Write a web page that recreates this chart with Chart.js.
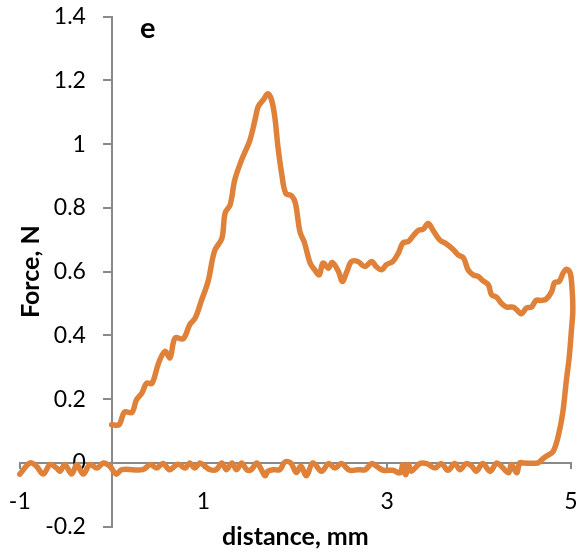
<!DOCTYPE html>
<html>
<head>
<meta charset="utf-8">
<script src="https://cdn.jsdelivr.net/npm/chart.js@4.4.1/dist/chart.umd.min.js"></script>
<style>
html,body{margin:0;padding:0;background:#fff;}
#wrap{position:relative;width:579px;height:554px;}
#panel{position:absolute;left:140px;top:12px;font-family:Lato,sans-serif;font-weight:bold;font-size:29px;line-height:29px;color:#000;}
</style>
</head>
<body>
<div id="wrap">
<canvas id="c" width="579" height="554"></canvas>
<div id="panel">e</div>
</div>
<script>
// loading path (distance, mm / force, N)
const loadX = [0.00,0.08,0.14,0.22,0.27,0.33,0.38,0.44,0.51,0.58,0.635,0.69,0.78,0.85,0.91,0.98,1.05,1.12,1.20,1.235,1.29,1.34,1.415,1.505,1.56,1.595,1.65,1.70,1.74,1.775,1.81,1.85,1.895,1.96,2.00,2.05,2.10,2.16,2.21,2.26,2.30,2.36,2.40,2.47,2.51,2.56,2.61,2.68,2.755,2.83,2.88,2.94,2.99,3.06,3.12,3.17,3.23,3.28,3.34,3.39,3.445,3.50,3.57,3.645,3.72,3.77,3.83,3.88,3.935,3.99,4.04,4.10,4.135,4.19,4.245,4.30,4.37,4.41,4.46,4.515,4.57,4.62,4.68,4.73,4.79,4.82,4.87,4.915,4.95,4.99,5.01,5.02,5.005,4.98,4.95,4.91,4.86,4.805,4.73,4.68,4.64,4.48];
const loadY = [0.120,0.120,0.160,0.158,0.198,0.220,0.250,0.250,0.313,0.350,0.330,0.392,0.390,0.434,0.455,0.512,0.570,0.665,0.705,0.784,0.810,0.888,0.951,1.013,1.076,1.118,1.139,1.158,1.139,1.087,0.992,0.909,0.846,0.838,0.815,0.725,0.690,0.627,0.606,0.590,0.627,0.611,0.629,0.600,0.569,0.600,0.632,0.632,0.616,0.632,0.616,0.606,0.622,0.632,0.658,0.690,0.695,0.712,0.730,0.733,0.751,0.729,0.700,0.687,0.669,0.653,0.643,0.606,0.590,0.585,0.572,0.559,0.528,0.520,0.500,0.489,0.489,0.480,0.468,0.486,0.489,0.510,0.510,0.514,0.538,0.566,0.569,0.596,0.608,0.597,0.553,0.480,0.418,0.330,0.260,0.157,0.083,0.036,0.021,0.010,0.000,0.000];
// return path along zero
const backX = [4.44,4.41,4.35,4.32,4.24,4.19,4.12,4.04,3.97,3.92,3.86,3.79,3.735,3.66,3.59,3.52,3.43,3.355,3.26,3.23,3.20,3.17,3.14,3.06,2.955,2.88,2.83,2.76,2.68,2.59,2.50,2.43,2.36,2.285,2.19,2.12,2.06,2.01,1.95,1.885,1.83,1.76,1.70,1.67,1.63,1.58,1.52,1.47,1.415,1.36,1.31,1.25,1.20,1.14,1.07,1.015,0.96,0.905,0.85,0.80,0.74,0.71,0.63,0.56,0.49,0.42,0.34,0.11,0.05,-0.02,-0.09,-0.16,-0.236,-0.31,-0.38,-0.435,-0.51,-0.56,-0.60,-0.67,-0.745,-0.82,-0.89,-1.00];
const backY = [0.000,-0.031,-0.005,-0.031,-0.010,0.000,-0.026,-0.002,-0.026,-0.010,-0.002,-0.021,-0.002,-0.023,-0.002,-0.016,-0.002,-0.002,-0.026,-0.005,-0.037,-0.005,-0.031,-0.023,-0.023,-0.010,-0.002,-0.021,-0.021,-0.023,-0.002,-0.016,-0.002,-0.026,0.000,-0.040,-0.010,-0.030,0.000,0.003,-0.021,-0.021,-0.026,-0.040,-0.021,0.000,-0.021,-0.021,0.000,-0.021,0.000,-0.021,0.000,-0.021,-0.021,-0.010,0.000,-0.016,0.000,-0.016,-0.005,-0.005,-0.021,-0.002,-0.016,-0.005,-0.021,-0.021,-0.035,-0.010,0.000,-0.016,-0.005,-0.035,-0.005,-0.035,-0.005,-0.026,-0.016,-0.005,-0.035,-0.010,0.000,-0.035];
const xTickValues = [-1,1,3,5];
const yTickValues = [-0.2,0,0.2,0.4,0.6,0.8,1,1.2,1.4];
const yTickLabels = ['-0.2','0','0.2','0.4','0.6','0.8','1','1.2','1.4'];
const xTitle = 'distance, mm';
const yTitle = 'Force, N';
const yLabelColumnAt = -0.28; // x value where the y tick labels end (right edge)

const allX = loadX.concat(backX);
const allY = loadY.concat(backY);
const points = allX.map((x,i)=>({x:x, y:allY[i]}));

const axisGrey = '#898989';
const tickFont = {family:'Lato', size:23};
const titleFont = {family:'Lato', size:25, weight:'bold'};

function zeroBox(s, w, h){
  if (w !== null) s.width = w;
  if (h !== null) s.height = h;
  s.paddingLeft = 0; s.paddingRight = 0; s.paddingTop = 0; s.paddingBottom = 0;
}
const yTicksBuilder = (s)=>{s.ticks=yTickValues.map(v=>({value:v}));};

new Chart(document.getElementById('c'), {
  type:'scatter',
  data:{datasets:[{
    data:points, showLine:true, xAxisID:'x', yAxisID:'y',
    borderColor:'#DF8138', backgroundColor:'#DF8138', borderWidth:5.5,
    pointRadius:0, tension:0.35, fill:false, clip:false,
    borderCapStyle:'round', borderJoinStyle:'round'
  }]},
  options:{
    responsive:false, animation:false, devicePixelRatio:1,
    layout:{padding:{left:0,right:8,top:16.7,bottom:0}},
    plugins:{legend:{display:false}, tooltip:{enabled:false}},
    scales:{
      x:{type:'linear', axis:'x', position:{y:0}, min:-1, max:5,
        afterFit:(s)=>zeroBox(s,null,0),
        afterBuildTicks:(s)=>{s.ticks=xTickValues.map(v=>({value:v}));},
        grid:{drawOnChartArea:false, drawTicks:true, tickLength:5, color:axisGrey, lineWidth:2},
        border:{display:true, color:axisGrey, width:2},
        ticks:{padding:20, font:tickFont, color:'#000', maxRotation:0, autoSkip:false,
          callback:(v)=>String(v)}
      },
      y:{type:'linear', axis:'y', position:{x:0}, min:-0.2, max:1.4,
        afterFit:(s)=>zeroBox(s,0,null),
        afterBuildTicks:yTicksBuilder,
        grid:{drawOnChartArea:false, drawTicks:true, tickLength:8, color:axisGrey, lineWidth:2},
        border:{display:true, color:axisGrey, width:2},
        ticks:{display:false}
      },
      yLab:{type:'linear', axis:'y', position:{x:yLabelColumnAt}, min:-0.2, max:1.4,
        afterFit:(s)=>zeroBox(s,0,null),
        afterBuildTicks:yTicksBuilder,
        grid:{display:false}, border:{display:false},
        ticks:{padding:0, font:tickFont, color:'#000', autoSkip:false,
          callback:(v)=>{const i=yTickValues.findIndex(t=>Math.abs(t-v)<1e-9); return i>=0?yTickLabels[i]:'';}}
      },
      xTitle:{type:'linear', axis:'x', position:'bottom',
        afterFit:(s)=>zeroBox(s,null,27.3),
        ticks:{display:false}, grid:{display:false}, border:{display:false},
        title:{display:true, text:xTitle, font:titleFont, color:'#000', padding:{top:0,bottom:2.5}}
      },
      yTitle:{type:'linear', axis:'y', position:'left',
        afterFit:(s)=>zeroBox(s,19.8,null),
        ticks:{display:false}, grid:{display:false}, border:{display:false},
        title:{display:true, text:yTitle, font:titleFont, color:'#000', padding:{top:16,bottom:0}}
      }
    }
  }
});
</script>
</body>
</html>
